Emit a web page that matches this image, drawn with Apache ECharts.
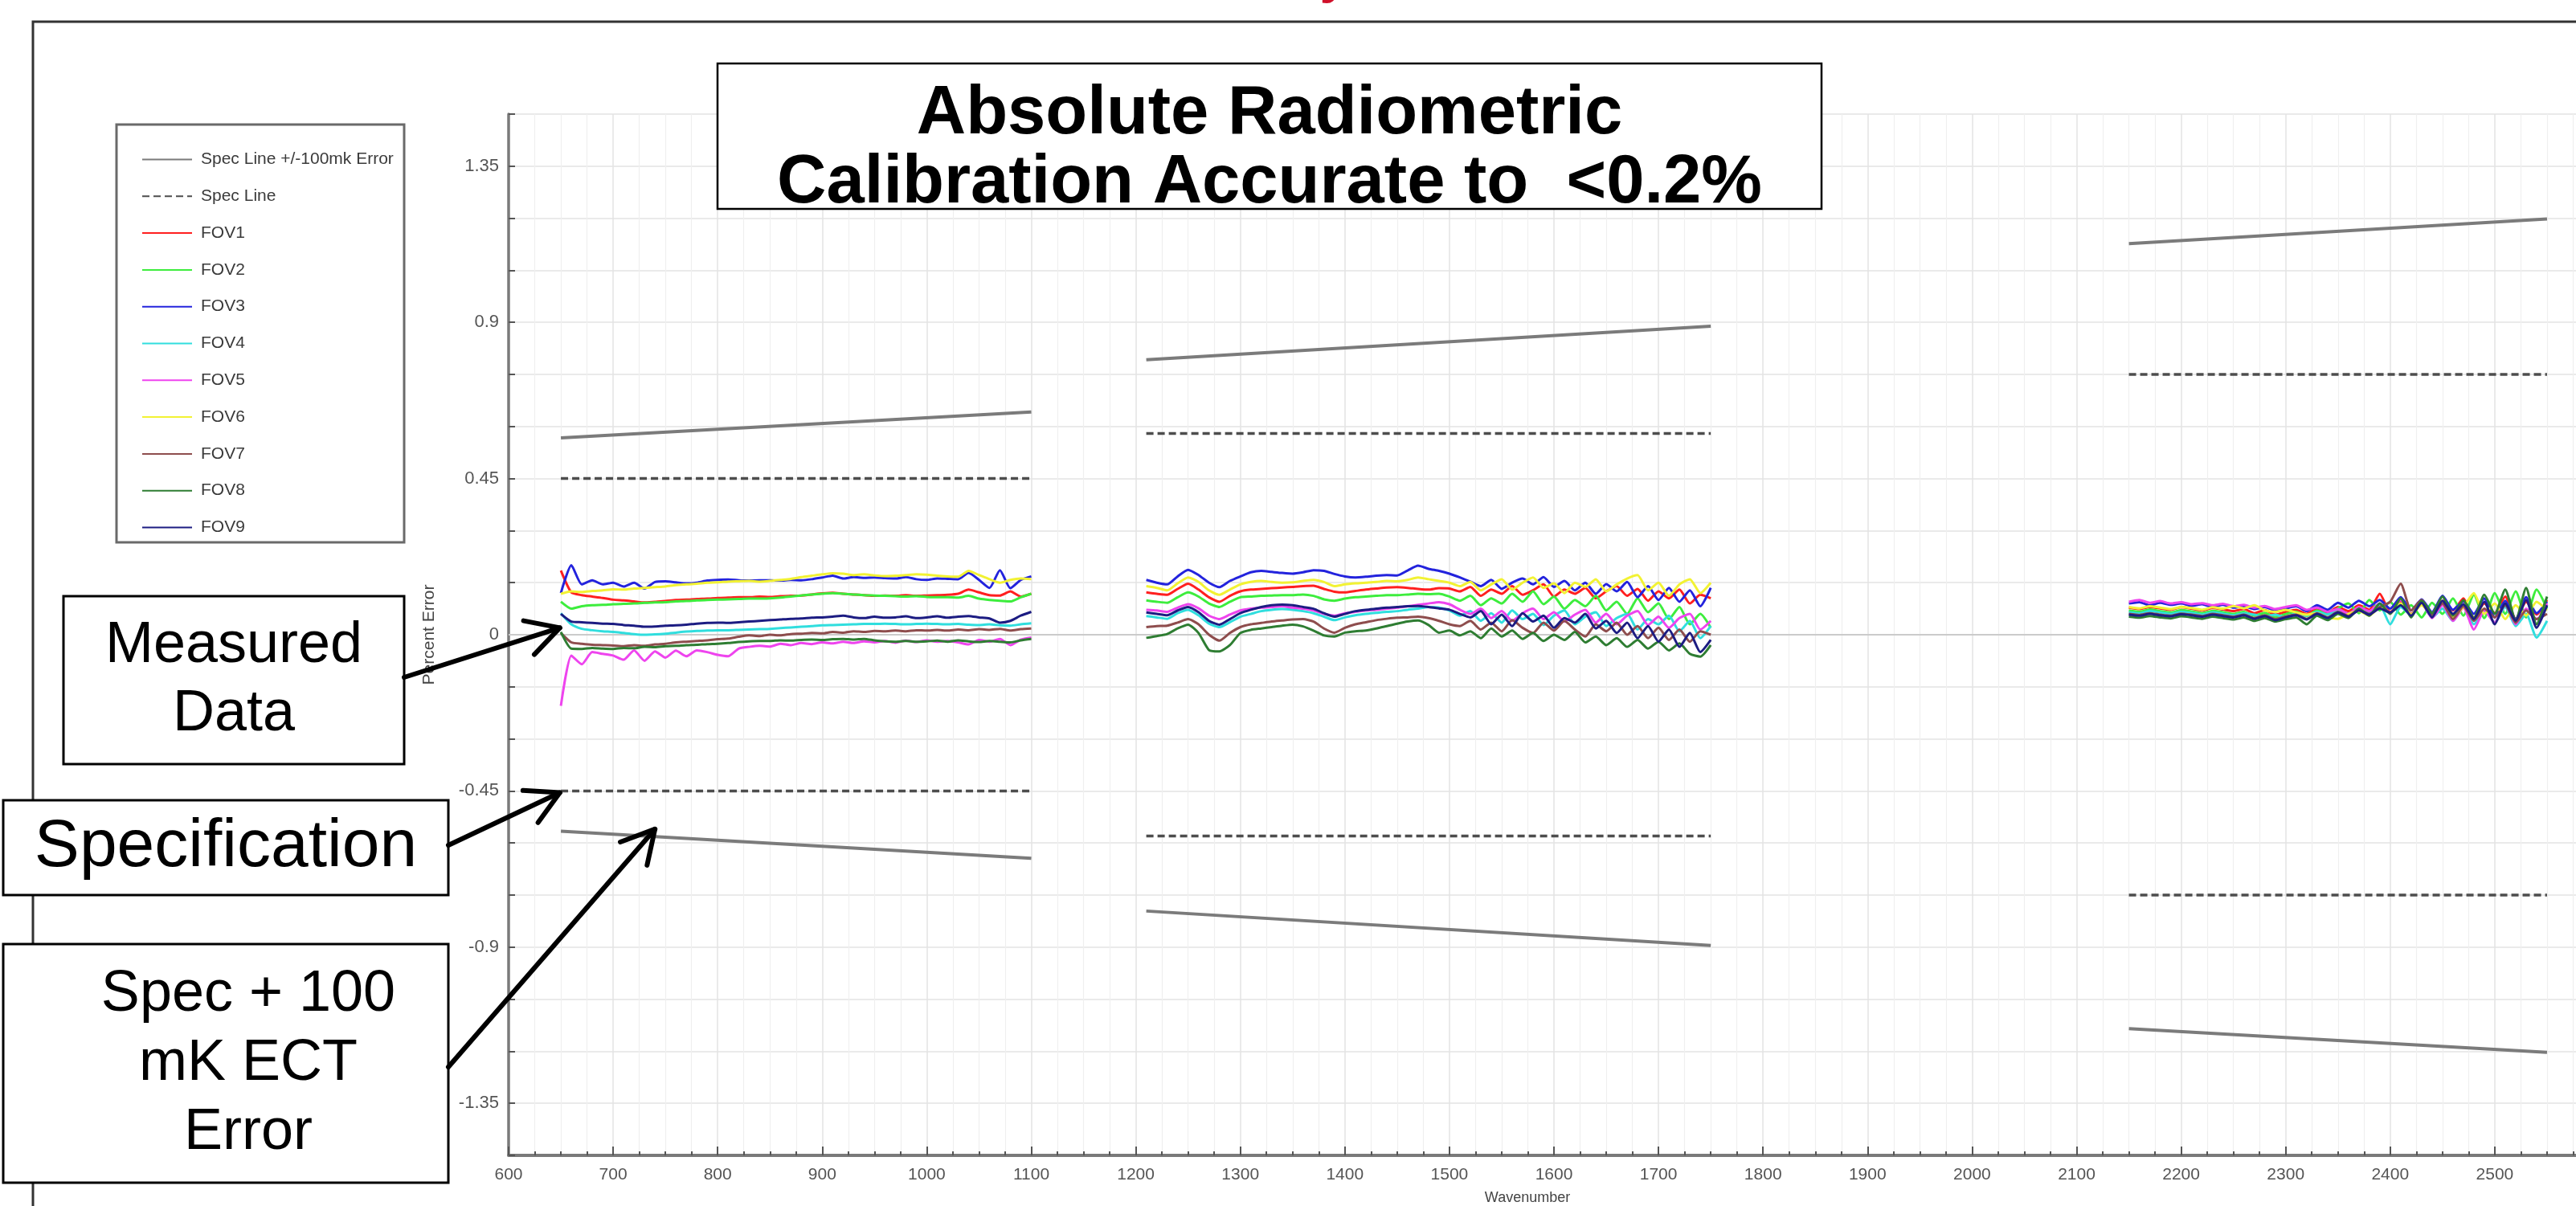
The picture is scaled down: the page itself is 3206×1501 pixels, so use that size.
<!DOCTYPE html>
<html>
<head>
<meta charset="utf-8">
<script src="https://cdn.jsdelivr.net/npm/echarts@6.0.0/dist/echarts.min.js"></script>
<style>
html,body{margin:0;padding:0;background:#ffffff;}
#chart{width:3206px;height:1501px;}
</style>
</head>
<body>
<div id="chart"></div>
<script>
// ---------------- data ----------------
const wnA = [650,660,670,680,690,700,710,720,730,740,750,760,770,780,790,800,810,820,830,840,850,860,870,880,890,900,910,920,930,940,950,960,970,980,990,1000,1010,1020,1030,1040,1050,1060,1070,1080,1090,1100];
const wnB = [1210,1220,1230,1240,1250,1260,1270,1280,1290,1300,1310,1320,1330,1340,1350,1360,1370,1380,1390,1400,1410,1420,1430,1440,1450,1460,1470,1480,1490,1500,1510,1520,1530,1540,1550,1560,1570,1580,1590,1600,1610,1620,1630,1640,1650,1660,1670,1680,1690,1700,1710,1720,1730,1740,1750];
const wnC = [2150,2160,2170,2180,2190,2200,2210,2220,2230,2240,2250,2260,2270,2280,2290,2300,2310,2320,2330,2340,2350,2360,2370,2380,2390,2400,2410,2420,2430,2440,2450,2460,2470,2480,2490,2500,2510,2520,2530,2540,2550];

const fov1A = [.185,.122,.114,.110,.106,.101,.099,.096,.093,.095,.097,.100,.101,.103,.104,.106,.107,.108,.108,.110,.109,.111,.112,.113,.116,.119,.121,.118,.116,.114,.112,.113,.112,.114,.112,.113,.114,.115,.118,.130,.122,.114,.113,.125,.110,.118];
const fov2A = [.095,.075,.082,.085,.086,.088,.089,.090,.092,.093,.094,.096,.097,.099,.100,.101,.102,.103,.104,.104,.105,.107,.110,.113,.116,.118,.120,.118,.116,.114,.113,.112,.111,.110,.111,.109,.108,.108,.107,.112,.104,.100,.098,.096,.108,.118];
const fov3A = [.120,.200,.145,.157,.145,.150,.139,.150,.133,.152,.154,.151,.148,.150,.156,.158,.159,.157,.156,.157,.157,.156,.158,.157,.160,.165,.170,.162,.166,.164,.165,.163,.162,.166,.160,.158,.162,.161,.160,.178,.158,.135,.186,.134,.158,.168];
const fov4A = [.062,.030,.017,.013,.010,.008,.005,.002,.000,.001,.003,.006,.009,.011,.012,.013,.013,.014,.015,.016,.017,.019,.021,.023,.025,.027,.028,.029,.030,.031,.031,.032,.031,.030,.031,.032,.031,.030,.031,.029,.028,.030,.027,.026,.030,.033];
const fov5A = [-.205,-.060,-.085,-.050,-.055,-.060,-.072,-.045,-.075,-.048,-.066,-.046,-.062,-.045,-.050,-.058,-.062,-.040,-.035,-.032,-.034,-.026,-.030,-.024,-.027,-.022,-.025,-.020,-.024,-.019,-.022,-.018,-.023,-.017,-.021,-.016,-.020,-.018,-.022,-.028,-.015,-.020,-.012,-.030,-.014,-.008];
const fov6A = [.118,.125,.123,.126,.128,.131,.130,.133,.135,.137,.139,.143,.145,.147,.150,.151,.153,.154,.155,.153,.155,.158,.161,.166,.170,.174,.177,.176,.172,.174,.171,.169,.170,.172,.174,.173,.170,.168,.167,.184,.172,.160,.150,.158,.162,.160];
const fov7A = [.005,-.022,-.026,-.029,-.030,-.031,-.033,-.030,-.032,-.028,-.026,-.022,-.020,-.018,-.016,-.013,-.011,-.006,-.002,-.004,.000,-.002,.002,.003,.005,.004,.008,.006,.010,.008,.011,.010,.012,.010,.013,.012,.014,.012,.015,.013,.016,.014,.017,.012,.016,.018];
const fov8A = [.008,-.040,-.041,-.038,-.040,-.041,-.038,-.039,-.035,-.036,-.033,-.032,-.030,-.029,-.027,-.026,-.024,-.021,-.019,-.018,-.018,-.016,-.017,-.015,-.014,-.015,-.013,-.012,-.014,-.012,-.016,-.019,-.020,-.018,-.020,-.019,-.017,-.020,-.016,-.019,-.021,-.018,-.020,-.022,-.016,-.012];
const fov9A = [.060,.038,.036,.034,.032,.031,.028,.026,.023,.024,.026,.027,.029,.032,.034,.035,.034,.036,.038,.040,.042,.044,.046,.047,.049,.050,.052,.055,.050,.048,.052,.049,.050,.053,.048,.050,.053,.049,.052,.054,.050,.047,.035,.040,.055,.066];

const fov1B = [.122,.118,.115,.132,.147,.130,.108,.095,.112,.125,.130,.132,.134,.136,.138,.140,.141,.132,.124,.122,.126,.130,.133,.136,.137,.135,.132,.130,.134,.133,.125,.138,.112,.130,.118,.140,.115,.128,.145,.110,.130,.118,.135,.105,.125,.140,.112,.132,.098,.125,.105,.130,.090,.115,.105];
const fov2B = [.099,.095,.092,.108,.122,.110,.090,.080,.095,.108,.110,.112,.113,.114,.114,.116,.112,.102,.098,.104,.108,.110,.112,.114,.114,.116,.118,.117,.118,.110,.098,.112,.085,.105,.090,.118,.095,.125,.088,.110,.075,.100,.082,.112,.070,.095,.060,.105,.065,.090,.045,.080,.030,.060,.020];
const fov3B = [.158,.150,.145,.168,.187,.172,.150,.137,.155,.168,.180,.184,.181,.178,.176,.180,.186,.184,.175,.168,.165,.167,.170,.172,.171,.185,.199,.190,.184,.176,.165,.153,.140,.158,.132,.150,.162,.145,.166,.138,.155,.128,.150,.118,.146,.125,.152,.108,.140,.100,.135,.095,.128,.082,.135];
const fov4B = [.054,.050,.046,.062,.072,.056,.032,.022,.036,.052,.060,.068,.072,.074,.072,.068,.062,.052,.042,.050,.056,.060,.063,.066,.068,.072,.075,.080,.078,.070,.055,.068,.040,.062,.035,.070,.045,.060,.028,.055,.070,.030,.052,.065,.025,.048,.060,.015,.045,.030,.055,.010,.040,-.010,.025];
const fov5B = [.072,.070,.066,.078,.088,.076,.055,.045,.058,.070,.075,.078,.080,.082,.078,.075,.070,.060,.055,.062,.066,.070,.072,.075,.078,.082,.086,.090,.094,.088,.072,.060,.075,.048,.068,.040,.062,.075,.045,.065,.038,.058,.072,.035,.060,.030,.055,.068,.028,.052,.020,.048,.060,.015,.040];
const fov6B = [.140,.135,.128,.148,.165,.152,.128,.115,.130,.145,.152,.155,.152,.150,.151,.155,.158,.152,.140,.145,.148,.150,.152,.155,.154,.158,.165,.160,.155,.150,.140,.152,.128,.145,.160,.130,.150,.165,.135,.148,.120,.150,.138,.160,.125,.145,.162,.172,.128,.150,.112,.145,.160,.120,.150];
const fov7B = [.022,.025,.026,.035,.045,.030,.000,-.017,.005,.022,.030,.034,.038,.041,.044,.045,.038,.018,.006,.020,.030,.036,.042,.046,.049,.050,.052,.048,.040,.030,.025,.040,.015,.035,.010,.042,.020,.005,.035,.012,.040,.015,-.005,.030,.010,.035,.000,.025,-.010,.020,-.015,.015,-.020,.010,.000];
const fov8B = [-.009,-.004,.002,.018,.029,.005,-.044,-.048,-.030,.005,.014,.018,.022,.026,.029,.024,.012,-.002,-.005,.006,.010,.012,.018,.025,.032,.038,.041,.028,.006,.012,-.002,.010,-.010,.018,-.005,.012,-.012,.005,-.018,.000,-.015,.008,-.022,-.005,-.030,-.010,-.035,-.015,-.040,-.020,-.045,-.025,-.055,-.063,-.030];
const fov9B = [.064,.060,.056,.070,.080,.065,.040,.029,.045,.062,.072,.080,.085,.087,.085,.080,.075,.062,.052,.060,.068,.072,.075,.078,.080,.082,.083,.080,.076,.072,.060,.050,.068,.030,.058,.025,.062,.038,.055,.020,.048,.035,.060,.018,.040,.005,.035,-.010,.025,-.020,.015,-.035,.005,-.050,-.015];

const fov1C = [.078,.074,.080,.076,.072,.079,.075,.070,.077,.073,.068,.074,.062,.071,.058,.066,.072,.060,.075,.064,.080,.068,.085,.072,.118,.065,.095,.060,.088,.052,.098,.070,.105,.048,.090,.062,.110,.045,.095,.058,.100];
const fov2C = [.070,.066,.073,.068,.064,.071,.067,.062,.069,.065,.060,.066,.055,.063,.050,.060,.066,.054,.070,.058,.076,.090,.062,.100,.070,.095,.058,.085,.050,.092,.060,.105,.055,.115,.048,.120,.060,.125,.050,.130,.075];
const fov3C = [.090,.094,.085,.092,.086,.090,.083,.088,.080,.086,.078,.082,.074,.080,.070,.076,.082,.068,.085,.072,.092,.078,.098,.082,.100,.075,.108,.070,.102,.065,.112,.072,.096,.060,.105,.050,.098,.045,.108,.062,.095];
const fov4C = [.065,.062,.068,.064,.060,.066,.063,.058,.065,.061,.056,.062,.058,.052,.058,.050,.062,.055,.066,.058,.072,.060,.078,.062,.085,.030,.080,.058,.090,.050,.075,.040,.085,.030,.070,.035,.080,.025,.060,-.008,.040];
const fov5C = [.095,.100,.092,.097,.090,.094,.088,.091,.085,.089,.082,.086,.078,.083,.074,.080,.085,.072,.078,.066,.074,.060,.080,.068,.090,.062,.100,.055,.092,.048,.085,.040,.078,.015,.070,.035,.088,.030,.075,.045,.090];
const fov6C = [.080,.076,.082,.078,.074,.080,.077,.072,.079,.075,.083,.076,.085,.070,.066,.072,.064,.058,.062,.050,.046,.060,.068,.055,.078,.062,.090,.058,.085,.062,.095,.050,.080,.120,.060,.090,.045,.085,.055,.095,.070];
const fov7C = [.060,.057,.062,.058,.055,.061,.058,.054,.060,.056,.052,.058,.048,.056,.045,.053,.058,.046,.062,.050,.066,.054,.072,.060,.080,.095,.147,.070,.100,.058,.090,.045,.082,.040,.075,.050,.085,.035,.070,.045,.060];
const fov8C = [.052,.049,.054,.050,.047,.053,.050,.046,.052,.048,.044,.050,.040,.048,.038,.045,.050,.030,.055,.042,.060,.048,.075,.055,.090,.060,.105,.050,.098,.062,.110,.055,.100,.048,.115,.060,.130,.040,.135,.030,.110];
const fov9C = [.058,.055,.060,.056,.053,.059,.056,.052,.058,.054,.050,.056,.046,.054,.042,.050,.056,.044,.060,.048,.064,.052,.070,.058,.076,.064,.085,.055,.092,.050,.098,.060,.088,.045,.095,.030,.090,.040,.100,.020,.085];

// spec lines: band segments (start / end wavenumber)
const segStart = [650, 1210, 2150];
const segEnd = [1100, 1750, 2550];
const specUp = [0.45, 0.58, 0.75];
const specLo = [-0.45, -0.58, -0.75];
const errUpStart = [0.567, 0.792, 1.127];
const errUpEnd = [0.642, 0.889, 1.198];
const errLoStart = [-0.566, -0.796, -1.135];
const errLoEnd = [-0.644, -0.895, -1.203];

const fovNames = ['FOV1','FOV2','FOV3','FOV4','FOV5','FOV6','FOV7','FOV8','FOV9'];
const fovColors = ['#ff1f1f','#3ded3d','#2323dd','#30dede','#ee44ee','#f2f233','#8e4d4d','#2e7d32','#1c1c82'];
const yTickLabels = ['-1.35','-0.9','-0.45','0','0.45','0.9','1.35'];

// ---------------- build ----------------
const fovA = [fov1A,fov2A,fov3A,fov4A,fov5A,fov6A,fov7A,fov8A,fov9A];
const fovB = [fov1B,fov2B,fov3B,fov4B,fov5B,fov6B,fov7B,fov8B,fov9B];
const fovC = [fov1C,fov2C,fov3C,fov4C,fov5C,fov6C,fov7C,fov8C,fov9C];
const GAP1 = 1155, GAP2 = 1950;

function segLine(startVals, endVals) {
  const out = [];
  for (let i = 0; i < 3; i++) {
    out.push([segStart[i], startVals[i]]);
    out.push([segEnd[i], endVals[i]]);
    if (i < 2) out.push([i === 0 ? GAP1 : GAP2, null]);
  }
  return out;
}

const FONT = "'Liberation Sans', Arial, sans-serif";
const series = [];
series.push({
  name: 'zero', type: 'line', silent: true, symbol: 'none', z: 1,
  data: [[600, 0], [2600, 0]],
  lineStyle: { color: '#cbcbcb', width: 2 }
});
const errColor = '#7b7b7b', specColor = '#4d4d4d';
[[errUpStart, errUpEnd], [errLoStart, errLoEnd]].forEach(p => {
  series.push({
    name: 'Spec Line +/-100mk Error', type: 'line', symbol: 'none', silent: true, z: 2,
    color: errColor, data: segLine(p[0], p[1]),
    lineStyle: { color: errColor, width: 4 }
  });
});
[specUp, specLo].forEach(v => {
  series.push({
    name: 'Spec Line', type: 'line', symbol: 'none', silent: true, z: 2,
    color: specColor, data: segLine(v, v),
    lineStyle: { color: specColor, width: 3.5, type: [9, 5] }
  });
});
fovNames.forEach((n, k) => {
  const d = [];
  wnA.forEach((x, i) => d.push([x, fovA[k][i]]));
  d.push([GAP1, null]);
  wnB.forEach((x, i) => d.push([x, fovB[k][i]]));
  d.push([GAP2, null]);
  wnC.forEach((x, i) => d.push([x, fovC[k][i]]));
  series.push({
    name: n, type: 'line', symbol: 'none', silent: true, z: 3, smooth: 0.2,
    color: fovColors[k], data: d,
    lineStyle: { color: fovColors[k], width: 3 }
  });
});

const chart = echarts.init(document.getElementById('chart'), null, { renderer: 'canvas' });
chart.setOption({
  animation: false,
  backgroundColor: '#ffffff',
  grid: { left: 633, right: -29, top: 142, bottom: 63, containLabel: false, outerBoundsMode: 'none' },
  legend: {
    orient: 'vertical', left: 176, top: 188, padding: 0,
    itemWidth: 62, itemHeight: 20, itemGap: 24.8,
    selectedMode: false,
    data: ['Spec Line +/-100mk Error', 'Spec Line'].concat(fovNames),
    itemStyle: { opacity: 0 },
    textStyle: { fontSize: 21, color: '#3a3a3a', fontFamily: FONT, padding: [0, 0, 0, 6], lineHeight: 20 }
  },
  xAxis: {
    type: 'value', min: 600, max: 2600, interval: 100,
    name: 'Wavenumber', nameLocation: 'middle', nameGap: 44,
    nameTextStyle: { fontSize: 18, color: '#444', fontFamily: FONT, padding: [0, 66, 0, 0] },
    axisLine: { onZero: false, lineStyle: { color: '#7a7a7a', width: 4 } },
    axisTick: { inside: true, length: 11, lineStyle: { color: '#555', width: 2 } },
    minorTick: { show: true, splitNumber: 4, length: 5, lineStyle: { color: '#555', width: 2 } },
    splitLine: { show: true, lineStyle: { color: '#e3e3e3', width: 1.5 } },
    minorSplitLine: { show: true, lineStyle: { color: '#efefef', width: 1.2 } },
    axisLabel: {
      fontSize: 21, color: '#555', margin: 14, fontFamily: FONT, showMaxLabel: false,
      formatter: function (v) { return v >= 2600 ? '' : String(v); }
    }
  },
  yAxis: {
    type: 'value', min: -1.5, max: 1.5, interval: 0.15,
    name: 'Percent Error', nameLocation: 'middle', nameGap: 88,
    nameTextStyle: { fontSize: 21, color: '#444', fontFamily: FONT },
    axisLine: { onZero: false, lineStyle: { color: '#7a7a7a', width: 3.5 } },
    axisTick: { inside: true, length: 8, lineStyle: { color: '#555', width: 2 } },
    splitLine: { show: true, lineStyle: { color: '#e3e3e3', width: 1.5 } },
    axisLabel: {
      fontSize: 22, color: '#555', margin: 12, fontFamily: FONT,
      formatter: function (v) {
        const s = String(+(+v).toFixed(2));
        return yTickLabels.indexOf(s) >= 0 ? s : '';
      }
    }
  },
  series: series
});

// ---------------- annotations ----------------
function px(x, y) { return chart.convertToPixel({ xAxisIndex: 0, yAxisIndex: 0 }, [x, y]); }
function arrow(id, x1, y1, tip) {
  const x2 = tip[0], y2 = tip[1];
  const a = Math.atan2(y2 - y1, x2 - x1), L = 46, s = 0.5;
  const p1 = [x2 - L * Math.cos(a - s), y2 - L * Math.sin(a - s)];
  const p2 = [x2 - L * Math.cos(a + s), y2 - L * Math.sin(a + s)];
  return [
    { type: 'line', id: id + 'l', z: 30, silent: true, shape: { x1: x1, y1: y1, x2: x2, y2: y2 },
      style: { stroke: '#000', lineWidth: 6, lineCap: 'round' } },
    { type: 'polyline', id: id + 'h', z: 30, silent: true, shape: { points: [p1, [x2, y2], p2] },
      style: { stroke: '#000', lineWidth: 6, lineCap: 'round', lineJoin: 'round', fill: null } }
  ];
}
function box(id, x, y, w, h, text, size, weight, lh, lw, tx, ty) {
  return [
    { type: 'rect', id: id + 'r', z: 20, silent: true, shape: { x: x, y: y, width: w, height: h },
      style: { fill: '#ffffff', stroke: '#000', lineWidth: lw } },
    { type: 'text', id: id + 't', z: 21, silent: true,
      style: { text: text, x: tx, y: ty, align: 'center', verticalAlign: 'middle',
        fontSize: size, fontWeight: weight, fontFamily: FONT, lineHeight: lh, fill: '#000' } }
  ];
}

let els = [];
els.push({ type: 'rect', id: 'frame', z: 0, silent: true, shape: { x: 41, y: 27, width: 3400, height: 1700 },
  style: { fill: null, stroke: '#333', lineWidth: 3 } });
els.push({ type: 'text', id: 'redTitle', z: 21, silent: true,
  style: { text: 'Radiometric Accuracy', x: 1678, y: 5, align: 'right', verticalAlign: 'bottom',
    fontSize: 64, fontWeight: 'bold', fontFamily: FONT, fill: '#d0102a' } });
els.push({ type: 'rect', id: 'legendBox', z: 1, silent: true, shape: { x: 145, y: 155, width: 358, height: 520 },
  style: { fill: '#ffffff', stroke: '#6a6a6a', lineWidth: 3 } });
els = els.concat(box('title', 893, 79, 1374, 181, 'Absolute Radiometric\nCalibration Accurate to  <0.2%', 85, 'bold', 86, 2.5, 1580, 186));
els = els.concat(box('meas', 79, 742, 424, 209, 'Measured\nData', 72, 'normal', 85, 3, 291, 847));
els = els.concat(box('spec', 4, 996, 554, 118, 'Specification', 84, 'normal', 85, 3, 281, 1055));
els = els.concat(box('err', 4, 1175, 554, 297, 'Spec + 100\nmK ECT\nError', 72, 'normal', 86, 3, 309, 1324));
els = els.concat(arrow('a1', 503, 843, px(649, 0.02)));
els = els.concat(arrow('a2', 558, 1052, px(649, -0.455)));
els = els.concat(arrow('a3', 558, 1328, px(740, -0.56)));

chart.setOption({ graphic: { elements: els } });
</script>
</body>
</html>
